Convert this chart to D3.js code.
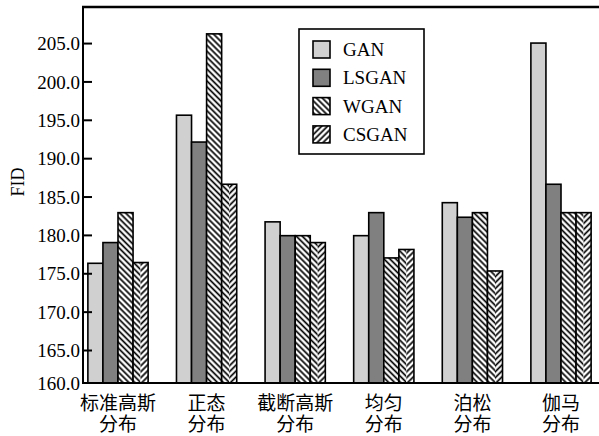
<!DOCTYPE html>
<html>
<head>
<meta charset="utf-8">
<script src="https://cdn.jsdelivr.net/npm/d3@7"></script>
<style>
  body { margin: 0; background: #fff; }
  svg { display: block; }
  .axis text { font-family: "Liberation Serif", "Times New Roman", serif; font-size: 19px; fill: #000; }
</style>
</head>
<body>
<svg width="599" height="436"></svg>
<script>
var categories = [["标准高斯", "分布"], ["正态", "分布"], ["截断高斯", "分布"], ["均匀", "分布"], ["泊松", "分布"], ["伽马", "分布"]]
var seriesNames = ["GAN", "LSGAN", "WGAN", "CSGAN"]
var gan   = [176.3, 195.6, 181.7, 179.9, 184.2, 205.0]
var lsgan = [179.0, 192.1, 179.9, 182.9, 182.3, 186.6]
var wgan  = [182.9, 206.2, 179.9, 177.0, 182.9, 182.9]
var csgan = [176.4, 186.6, 179.0, 178.1, 175.3, 182.9]
var yTicks = [165, 170, 175, 180, 185, 190, 195, 200, 205]

function renderViz() {
  var svg = d3.select("svg")
  var values = [gan, lsgan, wgan, csgan]
  var data = categories.map((c, i) => ({ cat: c, key: c.join(""), vals: values.map(s => s[i]) }))

  var yMin = 160.7, yMax = 209.7
  var left = 83, top = 7, bottom = 383, right = 599

  var y = d3.scaleLinear().domain([yMin, yMax]).range([bottom, top])
  var x0 = d3.scaleBand().domain(data.map(d => d.key)).range([left, 596]).paddingInner(0.32).paddingOuter(0.055)
  var x1 = d3.scaleBand().domain(seriesNames).range([0, x0.bandwidth()])

  // hatch patterns
  var defs = svg.append("defs")
  function hatch(id, angle) {
    defs.append("pattern").attr("id", id).attr("patternUnits", "userSpaceOnUse")
      .attr("width", 4.2).attr("height", 10).attr("patternTransform", `rotate(${angle})`)
      .call(p => p.append("rect").attr("width", 4.2).attr("height", 10).attr("fill", "#fff"))
      .append("line").attr("x1", 2.1).attr("x2", 2.1).attr("y1", 0).attr("y2", 10)
      .attr("stroke", "#000").attr("stroke-width", 1.7)
  }
  hatch("hatchBack", -45)
  hatch("hatchFwd", 45)

  var fills = { GAN: "#d0d0d0", LSGAN: "#808080", WGAN: "url(#hatchBack)", CSGAN: "url(#hatchFwd)" }

  var chart = svg.append("g").attr("id", "chart")

  var groups = chart.selectAll(".grp").data(data).enter()
    .append("g").attr("class", "grp").attr("transform", d => `translate(${x0(d.key)},0)`)

  groups.each(function(d) {
    var g = d3.select(this)
    seriesNames.forEach((s, j) => {
      var bx = x1(s), bw = x1.bandwidth(), by = y(d.vals[j]), bh = y(yMin) - y(d.vals[j])
      if (s === "CSGAN") {
        g.append("rect").attr("x", bx).attr("y", by).attr("width", bw / 2).attr("height", bh).attr("fill", "url(#hatchBack)")
        g.append("rect").attr("x", bx + bw / 2).attr("y", by).attr("width", bw / 2).attr("height", bh).attr("fill", "url(#hatchFwd)")
        g.append("rect").attr("x", bx).attr("y", by).attr("width", bw).attr("height", bh)
          .attr("fill", "none").attr("stroke", "#000").attr("stroke-width", 1.6)
      } else {
        g.append("rect").attr("x", bx).attr("y", by).attr("width", bw).attr("height", bh)
          .attr("fill", fills[s]).attr("stroke", "#000").attr("stroke-width", 1.6)
      }
    })
  })

  // y axis, ticks pointing inward
  var yAxis = d3.axisLeft(y).tickValues([yMin].concat(yTicks)).tickSize(-9).tickPadding(3)
    .tickFormat(d => d3.format(".1f")(Math.floor(d)))
  var yAxisG = chart.append("g").attr("class", "axis").attr("transform", `translate(${left},0)`).call(yAxis)
  yAxisG.select(".domain").remove()
  yAxisG.selectAll(".tick line").attr("stroke", "#000").attr("stroke-width", 2)
  yAxisG.selectAll(".tick text").attr("x", -3).attr("dy", "0.35em")
  yAxisG.selectAll(".tick").filter(d => d === yMin).select("line").remove()

  // frame lines
  chart.append("line").attr("x1", left).attr("x2", left).attr("y1", top - 1).attr("y2", bottom + 1).attr("stroke", "#000").attr("stroke-width", 2)
  chart.append("line").attr("x1", left - 1).attr("x2", right).attr("y1", top).attr("y2", top).attr("stroke", "#000").attr("stroke-width", 2.5)
  chart.append("line").attr("x1", left - 1).attr("x2", right).attr("y1", bottom).attr("y2", bottom).attr("stroke", "#000").attr("stroke-width", 2)

  // category labels
  var catG = chart.selectAll(".catLabel").data(data).enter()
    .append("text").attr("class", "catLabel")
    .attr("font-family", '"Noto Sans CJK SC", sans-serif').attr("font-size", 19).attr("text-anchor", "middle")
  catG.selectAll("tspan").data(d => d.cat.map(t => ({ t: t, cx: x0(d.key) + x0.bandwidth() / 2 }))).enter()
    .append("tspan").attr("x", d => d.cx).attr("y", (d, i) => 410 + i * 21).text(d => d.t)

  // y title
  chart.append("text").attr("transform", "translate(24,182) rotate(-90)").attr("text-anchor", "middle")
    .attr("font-family", '"Liberation Serif", serif').attr("font-size", 18).text("FID")

  // legend
  var legend = chart.append("g").attr("id", "legend").attr("transform", "translate(299,29)")
  legend.append("rect").attr("width", 125).attr("height", 125).attr("fill", "#fff").attr("stroke", "#000").attr("stroke-width", 1.6)
  var rows = legend.selectAll(".row").data(seriesNames).enter()
    .append("g").attr("class", "row").attr("transform", (d, i) => `translate(14,${12 + i * 28.3})`)
  rows.append("rect").attr("width", 17).attr("height", 17).attr("fill", d => fills[d]).attr("stroke", "#000").attr("stroke-width", 1.6)
  rows.append("text").attr("x", 30).attr("y", 8.5).attr("dy", "0.35em")
    .attr("font-family", '"Liberation Serif", serif').attr("font-size", 19).text(d => d)
}
renderViz()
</script>
</body>
</html>
